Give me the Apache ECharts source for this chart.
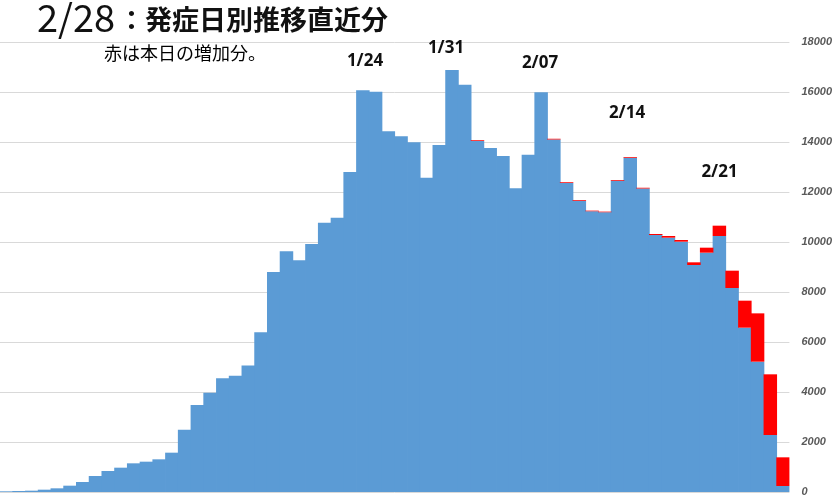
<!DOCTYPE html>
<html>
<head>
<meta charset="utf-8">
<script src="https://cdn.jsdelivr.net/npm/echarts@6/dist/echarts.min.js"></script>
<style>
html,body{margin:0;padding:0;background:#fff;}
#chart{width:835px;height:500px;}
</style>
</head>
<body>
<div id="chart"></div>
<script>
const categories = [
  '12/27','12/28','12/29','12/30','12/31',
  '1/1','1/2','1/3','1/4','1/5','1/6','1/7','1/8','1/9','1/10',
  '1/11','1/12','1/13','1/14','1/15','1/16','1/17','1/18','1/19','1/20',
  '1/21','1/22','1/23','1/24','1/25','1/26','1/27','1/28','1/29','1/30','1/31',
  '2/1','2/2','2/3','2/4','2/5','2/6','2/7','2/8','2/9','2/10',
  '2/11','2/12','2/13','2/14','2/15','2/16','2/17','2/18','2/19','2/20',
  '2/21','2/22','2/23','2/24','2/25','2/26'
];
const previousCounts = [
  27, 40, 53, 93, 147, 253, 400, 640, 840, 973,
  1147, 1213, 1307, 1573, 2490, 3480, 3970, 4550, 4650, 5060,
  6390, 8800, 9630, 9270, 9920, 10770, 10970, 12800, 16070, 16010,
  14430, 14230, 13990, 12570, 13880, 16880, 16290, 14040, 13760, 13440,
  12150, 13490, 15990, 14100, 12360, 11650, 11230, 11190, 12450, 13370,
  12140, 10280, 10173, 10013, 9080, 9573, 10240, 8160, 6573, 5213,
  2280, 240
];
const todayIncrease = [
  0, 0, 0, 0, 0, 0, 0, 0, 0, 0,
  0, 0, 0, 0, 0, 0, 0, 0, 0, 0,
  0, 0, 0, 0, 0, 0, 0, 0, 0, 0,
  0, 0, 0, 0, 0, 0, 0, 30, 0, 0,
  0, 0, 0, 30, 30, 30, 25, 25, 30, 30,
  30, 40, 67, 67, 107, 200, 413, 693, 1080, 1933,
  2427, 1147
];
const yTicks = [0, 2000, 4000, 6000, 8000, 10000, 12000, 14000, 16000, 18000];
const annotationLabels = ['1/24', '1/31', '2/07', '2/14', '2/21'];
const titleDate = '2/28';
const titleText = '：発症日別推移直近分';
const subtitleText = '赤は本日の増加分。';

const annotationPos = [[365, 61], [446, 48], [540, 63], [627, 113], [719.5, 172]];
const BLUE = '#5b9bd5';
const RED = '#ff0000';

const chart = echarts.init(document.getElementById('chart'), null, {renderer: 'canvas'});
const graphics = [
  {type: 'text', x: 37, y: 18, style: {text: titleDate, font: 'normal 38px "Noto Sans CJK JP"', fill: '#111', verticalAlign: 'middle'}},
  {type: 'text', x: 118, y: 20, style: {text: titleText, font: 'bold 27px "Noto Sans CJK JP"', fill: '#111', verticalAlign: 'middle'}},
  {type: 'text', x: 104, y: 53, style: {text: subtitleText, font: 'normal 18px "Noto Sans CJK JP"', fill: '#000', verticalAlign: 'middle'}}
];
annotationLabels.forEach((t, i) => {
  graphics.push({
    type: 'text',
    x: annotationPos[i][0], y: annotationPos[i][1],
    z: 100,
    style: {text: t, font: 'bold 17px "Noto Sans"', fill: '#111', align: 'center', verticalAlign: 'middle'}
  });
});

chart.setOption({
  animation: false,
  backgroundColor: '#fff',
  grid: {left: 0, right: 45, top: 42, bottom: 8, containLabel: false},
  xAxis: {
    type: 'category',
    data: categories,
    boundaryGap: true,
    axisLine: {show: false},
    axisTick: {show: false},
    axisLabel: {show: false},
    splitLine: {show: false}
  },
  yAxis: {
    type: 'value',
    position: 'right',
    min: yTicks[0],
    max: yTicks[yTicks.length - 1],
    interval: yTicks[1] - yTicks[0],
    axisLine: {show: false},
    axisTick: {show: false},
    splitLine: {lineStyle: {color: '#d9d9d9', width: 1}},
    axisLabel: {
      margin: 12,
      color: '#595959',
      fontStyle: 'italic',
      fontWeight: 'bold',
      fontSize: 11,
      fontFamily: '"Liberation Sans", Arial, sans-serif',
      formatter: v => String(v)
    }
  },
  series: [
    {
      name: 'previous',
      type: 'bar',
      stack: 'total',
      data: previousCounts,
      barWidth: '106%',
      itemStyle: {color: BLUE}
    },
    {
      name: 'today',
      type: 'bar',
      stack: 'total',
      data: todayIncrease.map(v => (v > 0 ? v : '-')),
      barWidth: '106%',
      itemStyle: {color: RED}
    }
  ],
  graphic: graphics
});
</script>
</body>
</html>
